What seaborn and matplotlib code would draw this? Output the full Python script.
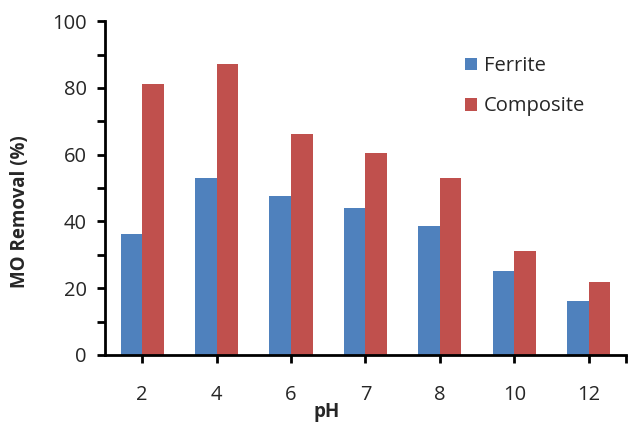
import matplotlib
matplotlib.use("Agg")
import matplotlib.pyplot as plt
import seaborn as sns
import pandas as pd
from matplotlib.ticker import MultipleLocator

ph_levels = ["2", "4", "6", "7", "8", "10", "12"]
ferrite = [36.2, 53.0, 47.6, 44.0, 38.6, 25.1, 16.2]
composite = [81.1, 87.2, 66.2, 60.5, 53.0, 31.1, 21.9]
series_names = ["Ferrite", "Composite"]
series_colors = ["#4F81BD", "#C0504D"]

df = pd.DataFrame({
    "pH": ph_levels * 2,
    "removal": ferrite + composite,
    "material": [series_names[0]] * len(ph_levels) + [series_names[1]] * len(ph_levels),
})

sns.set_style("white")
plt.rcParams["font.family"] = ["Open Sans", "DejaVu Sans"]

fig = plt.figure(figsize=(6.29, 4.23), dpi=100)
ax = fig.add_axes([0.167, 0.161, 0.828, 0.789])

sns.barplot(data=df, x="pH", y="removal", hue="material", order=ph_levels,
            hue_order=series_names, palette=series_colors, width=0.58,
            saturation=1, gap=0, ax=ax, linewidth=0, edgecolor="none")

ax.set_xlim(-0.5, 6.5)
ax.set_ylim(0, 100)
ax.yaxis.set_major_locator(MultipleLocator(20))
ax.yaxis.set_minor_locator(MultipleLocator(10))
ax.set_xticks([6.5], minor=True)

for side in ["top", "right"]:
    ax.spines[side].set_visible(False)
for side in ["left", "bottom"]:
    ax.spines[side].set_linewidth(2)
    ax.spines[side].set_color("black")

ax.tick_params(axis="y", which="both", direction="out", length=6, width=2,
               color="black", left=True, labelsize=14.5, pad=7)
ax.tick_params(axis="x", which="both", direction="out", length=6, width=2,
               color="black", bottom=True, labelsize=14.5, pad=16)

ax.set_xlabel("")
ax.set_ylabel("")
fig.text(0.519, 0.026, "pH", ha="center", va="center", fontsize=13.5, fontweight="bold")
fig.text(0.032, 0.50, "MO Removal (%)", ha="center", va="center", rotation=90,
         fontsize=13.5, fontweight="bold")

ax.legend(loc="upper left", bbox_to_anchor=(0.71, 0.91), bbox_transform=fig.transFigure,
          frameon=False, fontsize=14.5, handlelength=0.6, handleheight=0.6,
          handletextpad=0.35, labelspacing=1.0)

fig.savefig("out.png", dpi=100)
